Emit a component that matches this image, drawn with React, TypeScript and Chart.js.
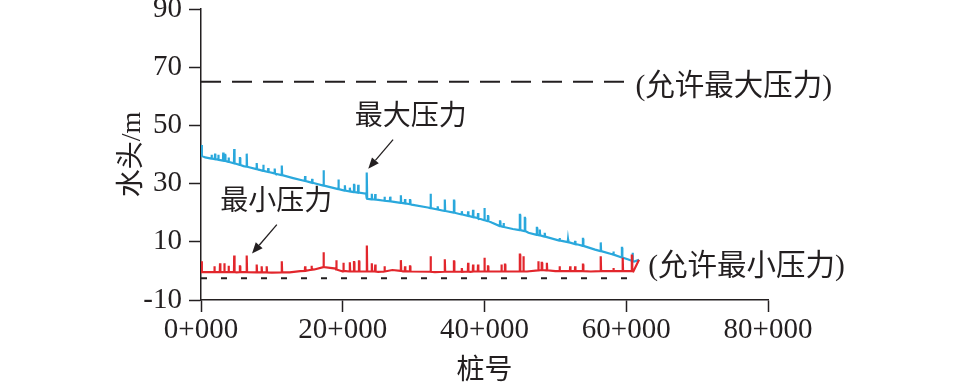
import React, { useEffect, useRef } from 'react';
import { Chart, registerables } from 'chart.js';

Chart.register(...registerables);

// ---- axis ticks ----
const xTickLabels = ['0+000', '20+000', '40+000', '60+000', '80+000'];
const yTickValues = [-10, 10, 30, 50, 70, 90];

// ---- allowed limits ----
const allowedMax = 65;
const allowedMaxEndKm = 60;
const allowedMin = -2.5;
const allowedMinEndKm = 62;

// ---- 最大压力 (blue): baseline points [km, m] ----
const maxBase: number[][] = [
  [0, 43.3], [0.12, 39.5], [0.6, 39.0], [2, 38.4], [4, 37.4], [6, 36.0], [8, 34.9],
  [10.5, 33.4], [13, 31.9], [15.2, 30.6], [17.5, 29.2], [20.3, 27.6], [23.3, 26.5],
  [23.5, 24.8], [25, 24.4], [27, 23.8], [29.7, 22.8], [32, 21.8], [34.4, 20.6],
  [37, 19.3], [39, 18.2], [40, 17.4], [41, 16.6], [42.4, 15.3], [44, 14.4],
  [46.2, 13.1], [48.5, 11.8], [50.9, 10.3], [53.3, 9.0], [55.6, 7.3], [58, 5.7],
  [60.3, 3.9], [61.1, 3.2], [61.8, 3.8],
];
// spikes [km, base, peak]
const maxSpikes: number[][] = [
  [1.5, 38.6, 39.9], [2.0, 38.4, 40.3], [2.45, 38.2, 39.9], [3.15, 37.9, 40.7],
  [3.4, 37.8, 39.9], [3.9, 37.5, 39.0], [4.7, 37.0, 41.9], [5.5, 36.4, 38.8],
  [6.45, 35.8, 40.3], [7.86, 35.0, 37.1], [8.8, 34.4, 36.5], [9.5, 34.0, 35.3],
  [10.4, 33.5, 35.2], [11.4, 32.9, 36.2], [14.7, 30.9, 32.6], [15.7, 30.3, 31.6],
  [17.3, 29.3, 34.6], [19.4, 28.1, 31.4], [20.3, 27.6, 29.4], [21.0, 27.3, 28.6],
  [21.6, 27.1, 29.6], [22.2, 26.9, 29.6], [23.4, 24.8, 33.8], [24.1, 24.6, 26.5],
  [24.6, 24.5, 26.4], [25.9, 24.1, 25.5], [26.7, 23.9, 25.5], [28.2, 23.4, 26.0],
  [28.8, 23.2, 24.7], [29.5, 22.9, 24.3], [32.4, 21.6, 26.5], [33.4, 21.1, 22.2],
  [34.4, 20.6, 24.5], [35.7, 20.0, 24.2], [36.8, 19.4, 20.5], [37.7, 18.9, 20.5],
  [38.4, 18.5, 21.0], [39.1, 18.1, 19.9], [40.0, 17.4, 21.6], [40.5, 17.1, 18.8],
  [42.2, 15.4, 17.0], [42.7, 15.1, 16.5], [45.0, 14.0, 19.3], [45.7, 13.7, 18.2],
  [47.4, 12.4, 14.8], [47.8, 12.2, 14.2], [48.5, 11.8, 13.1], [50.6, 10.4, 11.3],
  [51.8, 9.9, 10.8], [52.8, 9.2, 10.3], [53.9, 8.6, 11.0], [56.4, 6.8, 9.8],
  [58.2, 5.6, 6.7], [59.4, 4.6, 7.9], [60.9, 3.4, 6.2],
];

// ---- 最小压力 (red): baseline points [km, m] ----
const minBase: number[][] = [
  [0, 3.3], [0.12, -0.4], [5, -0.5], [10, -0.6], [12.5, -0.5], [14, -0.1], [16, 0.5],
  [17.3, 1.3], [19, 0.8], [20, -0.2], [25, -0.3], [27, 0.3], [28.5, -0.2], [33, -0.4],
  [38, -0.3], [42, -0.2], [46, -0.2], [48, 0.3], [50, -0.1], [55, -0.2], [61, -0.2],
  [61.8, 3.8],
];
const minSpikes: number[][] = [
  [1.9, -0.4, 1.6], [2.7, -0.4, 2.6], [3.3, -0.4, 2.6], [3.9, -0.4, 1.8],
  [4.7, -0.4, 5.3], [5.5, -0.4, 1.6], [6.45, -0.4, 5.3], [7.86, -0.5, 2.2],
  [8.56, -0.5, 1.6], [9.27, -0.5, 1.6], [11.4, -0.5, 3.3], [14.7, 0.0, 1.6],
  [15.6, 0.4, 1.8], [17.3, 1.3, 6.4], [19.1, 0.5, 3.7], [20.1, 0.0, 2.8],
  [21.0, -0.2, 3.0], [21.6, -0.2, 3.0], [22.3, -0.2, 3.3], [23.4, -0.2, 8.7],
  [24.1, -0.2, 2.6], [24.6, -0.2, 2.2], [25.9, -0.2, 1.6], [28.2, 0.0, 3.7],
  [28.8, -0.1, 1.6], [29.5, -0.2, 1.6], [32.4, -0.3, 5.0], [34.4, -0.3, 4.0],
  [35.7, -0.3, 3.3], [36.8, -0.3, 1.0], [37.7, -0.2, 2.8], [38.4, -0.2, 2.2],
  [39.1, -0.2, 2.2], [40.0, -0.2, 4.5], [40.5, -0.2, 1.6], [42.4, -0.2, 2.2],
  [42.9, -0.2, 2.2], [45.0, -0.2, 5.6], [45.5, -0.2, 5.0], [47.6, 0.2, 3.3],
  [48.1, 0.3, 2.8], [48.8, 0.2, 2.8], [50.6, -0.1, 1.6], [52.1, -0.1, 1.6],
  [52.8, -0.1, 1.6], [53.9, -0.1, 2.2], [56.4, -0.1, 5.0], [58.2, -0.1, 1.0],
  [59.5, -0.1, 4.5], [60.8, -0.1, 5.3],
];

// ---- labels ----
const labelTexts = ['最大压力', '最小压力', '(允许最大压力)', '(允许最小压力)'];
const yTitle = '水头/m';
const xTitle = '桩号';

function buildSeries(base: number[][], spikes: number[][]) {
  const pts = base.map(([x, y]) => ({ x, y }));
  spikes.forEach(([k, b, p]) => {
    pts.push({ x: k - 0.05, y: b }, { x: k - 0.015, y: p }, { x: k + 0.015, y: p }, { x: k + 0.05, y: b });
  });
  pts.sort((a, b) => a.x - b.x);
  return pts;
}

const FONT = '"Liberation Serif", "Noto Sans CJK SC", serif';

// placement of text labels and arrows (data coords)
const labelPlacement = [
  { km: 21.7, v: 52.6, size: 28 },
  { km: 2.7, v: 23.4, size: 28 },
  { km: 61.3, v: 63.2, size: 29.5 },
  { km: 63.1, v: 1.1, size: 29.5 },
];
const arrowPlacement = [
  { fromKm: 27.1, fromV: 45.1, toKm: 23.6, toV: 35.1 },
  { fromKm: 10.7, fromV: 15.9, toKm: 7.2, toV: 5.95 },
];

const annotationPlugin = {
  id: 'annotations',
  afterDatasetsDraw(chart: any) {
    const { ctx, scales } = chart;
    const xs = scales.x;
    const ys = scales.y;
    ctx.save();
    ctx.fillStyle = '#231f20';
    ctx.textAlign = 'left';
    ctx.textBaseline = 'middle';
    labelTexts.forEach((t, i) => {
      const p = labelPlacement[i];
      ctx.font = `${p.size}px ${FONT}`;
      ctx.fillText(t, xs.getPixelForValue(p.km), ys.getPixelForValue(p.v));
    });
    ctx.strokeStyle = '#231f20';
    ctx.lineWidth = 1.3;
    arrowPlacement.forEach((a) => {
      const x1 = xs.getPixelForValue(a.fromKm);
      const y1 = ys.getPixelForValue(a.fromV);
      const x2 = xs.getPixelForValue(a.toKm);
      const y2 = ys.getPixelForValue(a.toV);
      const ang = Math.atan2(y2 - y1, x2 - x1);
      const hl = 11;
      const hw = 4.5;
      const bx = x2 - hl * Math.cos(ang);
      const by = y2 - hl * Math.sin(ang);
      ctx.beginPath();
      ctx.moveTo(x1, y1);
      ctx.lineTo(bx, by);
      ctx.stroke();
      ctx.beginPath();
      ctx.moveTo(x2, y2);
      ctx.lineTo(bx + hw * Math.sin(ang), by - hw * Math.cos(ang));
      ctx.lineTo(bx - hw * Math.sin(ang), by + hw * Math.cos(ang));
      ctx.closePath();
      ctx.fill();
    });
    ctx.restore();
  },
};

export default function App() {
  const ref = useRef<HTMLCanvasElement | null>(null);
  useEffect(() => {
    if (!ref.current) return;
    const chart = new Chart(ref.current, {
      type: 'line',
      data: {
        datasets: [
          {
            label: '最小压力',
            data: buildSeries(minBase, minSpikes),
            borderColor: '#e2262c',
            borderWidth: 2.2,
            pointRadius: 0,
            tension: 0,
            order: 1,
          },
          {
            label: '最大压力',
            data: buildSeries(maxBase, maxSpikes),
            borderColor: '#2aa8dc',
            borderWidth: 2.2,
            pointRadius: 0,
            tension: 0,
            order: 2,
          },
          {
            label: '允许最大压力',
            data: [{ x: 0, y: allowedMax }, { x: allowedMaxEndKm, y: allowedMax }],
            borderColor: '#231f20',
            borderWidth: 2,
            borderDash: [20, 11],
            pointRadius: 0,
            order: 3,
          },
          {
            label: '允许最小压力',
            data: [{ x: 0, y: allowedMin }, { x: allowedMinEndKm, y: allowedMin }],
            borderColor: '#231f20',
            borderWidth: 2,
            borderDash: [6, 14],
            pointRadius: 0,
            order: 4,
          },
        ],
      },
      options: {
        animation: false,
        responsive: false,
        layout: { padding: { left: 0, right: 189, top: 9, bottom: 0 } },
        plugins: { legend: { display: false }, tooltip: { enabled: false } },
        scales: {
          x: {
            type: 'linear',
            min: 0,
            max: 80,
            afterBuildTicks: (s: any) => {
              s.ticks = xTickLabels.map((_, i) => ({ value: i * 20 }));
            },
            ticks: {
              callback: (_v: any, i: number) => xTickLabels[i],
              font: { family: FONT, size: 29 },
              color: '#231f20',
              padding: 1,
              maxRotation: 0,
            },
            grid: { drawOnChartArea: false, drawTicks: true, tickLength: 12, tickColor: '#231f20', tickWidth: 1.5 },
            border: { display: true, color: '#231f20', width: 1.5 },
            title: {
              display: true,
              text: xTitle,
              font: { family: FONT, size: 28, lineHeight: 1 },
              color: '#231f20',
              padding: { top: 0, bottom: -3 },
            },
            afterFit: (s: any) => {
              s.height = 83;
              s.paddingLeft = 0;
              s.paddingRight = 0;
            },
          },
          y: {
            type: 'linear',
            min: -10,
            max: 90,
            afterBuildTicks: (s: any) => {
              s.ticks = yTickValues.map((v) => ({ value: v }));
            },
            ticks: {
              font: { family: FONT, size: 29 },
              color: '#231f20',
              padding: 7,
            },
            grid: { drawOnChartArea: false, drawTicks: true, tickLength: 12, tickColor: '#231f20', tickWidth: 1.5 },
            border: { display: true, color: '#231f20', width: 1.5 },
            title: {
              display: true,
              text: yTitle,
              font: { family: FONT, size: 28, lineHeight: 1 },
              color: '#231f20',
              padding: { top: 119, bottom: 0 },
            },
            afterFit: (s: any) => {
              s.width = 201;
              s.paddingTop = 0;
              s.paddingBottom = 0;
            },
          },
        },
      },
      plugins: [annotationPlugin],
    });
    return () => chart.destroy();
  }, []);
  return (
    <div style={{ position: 'fixed', left: 0, top: 0, width: 957, height: 383, background: '#fff' }}>
      <canvas ref={ref} width={957} height={383} style={{ display: 'block' }} />
    </div>
  );
}
